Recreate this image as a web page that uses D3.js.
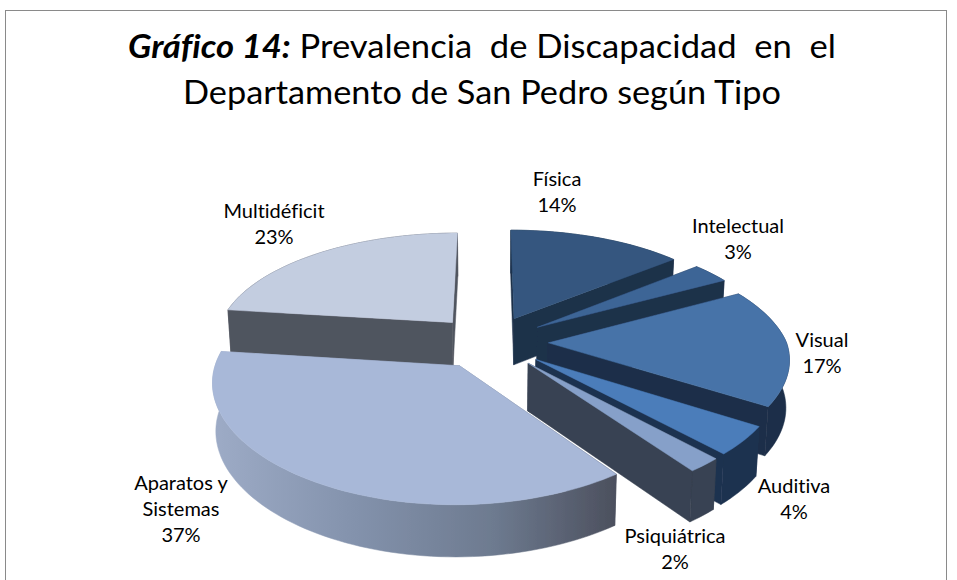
<!DOCTYPE html>
<html><head><meta charset="utf-8">
<script src="https://cdn.jsdelivr.net/npm/d3@7"></script>
<style>html,body{margin:0;padding:0;background:#fff}svg{display:block}text{font-variant-ligatures:none}</style>
</head><body><svg id="c" width="957" height="580"></svg>
<script>
const categories = ["Física","Intelectual","Visual","Auditiva","Psiquiátrica","Aparatos y Sistemas","Multidéficit"];
const values = [14,3,17,4,2,37,23];
const topColors = ["#34577f","#3d6596","#4673a8","#4b7dba","#86a0c9","#a8b8d8","#c3cde0"];
const wallColors = ["#1d304a","#1d304a","#1c2f48","#1e3350","#384252","#6f7d94","#50545e"];
const labelLines = [["Física","14%"],["Intelectual","3%"],["Visual","17%"],["Auditiva","4%"],["Psiquiátrica","2%"],["Aparatos y","Sistemas","37%"],["Multidéficit","23%"]];
const labelX = [557,738,822,794,675,181,274];
const labelY = [186,233,347,493,543,490,218];
const paintOrder = [6,0,1,2,3,4,5];
const W=957,H=580;
const cx=490,cy=342,S=238,A=109,P=0.156,PX=0.125,EXPL=0.245,WALL=47,CONV=0.012;
const svg=d3.select("#c");
const defs=svg.append("defs");
const grad=defs.append("linearGradient").attr("id","wallGrad").attr("gradientUnits","userSpaceOnUse")
 .attr("x1",215).attr("x2",615).attr("y1",0).attr("y2",0);
[["0","#9dabc6"],["0.35","#8392ac"],["0.7","#6d7a8f"],["1","#4c505e"]].forEach(s=>grad.append("stop").attr("offset",s[0]).attr("stop-color",s[1]));
defs.append("filter").attr("id","soft").append("feGaussianBlur").attr("stdDeviation",0.5);

svg.append("rect").attr("x",5.5).attr("y",10.5).attr("width",941).attr("height",600)
  .attr("fill","#fff").attr("stroke","#8a8a8a").attr("stroke-width",1);

const pie=d3.pie().sort(null).value(d=>d);
const arcs=pie(values);

function proj(X,Y,z){
  const w=1-P*Y;
  const wx=1-(Y>0?PX:P)*Y;
  const k=z?(1-CONV):1;
  return [cx+k*S*X/wx, cy+A*Y/w+(z?WALL/Math.sqrt(w):0)];
}
function pointFor(a,r,t,z){
  const m=(a.startAngle+a.endAngle)/2;
  const X=EXPL*Math.sin(m)+r*Math.sin(t), Y=-EXPL*Math.cos(m)-r*Math.cos(t);
  return proj(X,Y,z);
}
const line=d3.line();
const g=svg.append("g").attr("filter","url(#soft)");
paintOrder.forEach(i=>{
  const a=arcs[i];
  const n=Math.max(4,Math.ceil((a.endAngle-a.startAngle)/0.03));
  const ts=d3.range(n+1).map(j=>a.startAngle+(a.endAngle-a.startAngle)*j/n);
  const apexT=pointFor(a,0,0,false), apexB=pointFor(a,0,0,true);
  const topArc=ts.map(t=>pointFor(a,1,t,false));
  const botArc=ts.map(t=>pointFor(a,1,t,true));
  const wallFill=i===5?"url(#wallGrad)":wallColors[i];
  const sWall=[apexT,topArc[0],botArc[0],apexB];
  const eWall=[apexT,topArc[n],botArc[n],apexB];
  const outer=topArc.concat(botArc.slice().reverse());
  // the cut face nearer the viewer is painted last
  const sFront=(topArc[0][1]>topArc[n][1]);
  const walls=sFront?[eWall,outer,sWall]:[sWall,outer,eWall];
  walls.forEach(p=>g.append("path").attr("d",line(p)+"Z").attr("fill",wallFill).attr("stroke",wallFill).attr("stroke-width",0.5));
  const face=[apexT].concat(topArc);
  g.append("path").attr("d",line(face)+"Z").attr("fill",topColors[i]).attr("stroke",topColors[i]).attr("stroke-width",0.5);
});

const font="Lato, 'Open Sans', sans-serif";
const title=svg.append("g").attr("font-family",font).attr("fill","#000");
const t1=title.append("text").attr("x",128).attr("y",58).attr("font-size",33).attr("xml:space","preserve").style("white-space","pre")
  .attr("textLength",708).attr("lengthAdjust","spacingAndGlyphs");
t1.append("tspan").attr("font-weight",700).attr("font-style","italic").text("Gráfico 14:");
t1.append("tspan").text(" Prevalencia  de Discapacidad  en  el");
title.append("text").attr("x",183).attr("y",104).attr("font-size",33)
  .attr("textLength",598).attr("lengthAdjust","spacingAndGlyphs").text("Departamento de San Pedro según Tipo");

const lab=svg.append("g").attr("font-family",font).attr("font-size",20).attr("fill","#000").attr("text-anchor","middle");
labelLines.forEach((ls,i)=>{
  ls.forEach((s,j)=>lab.append("text").attr("x",labelX[i]).attr("y",labelY[i]+j*26).text(s));
});
</script></body></html>
